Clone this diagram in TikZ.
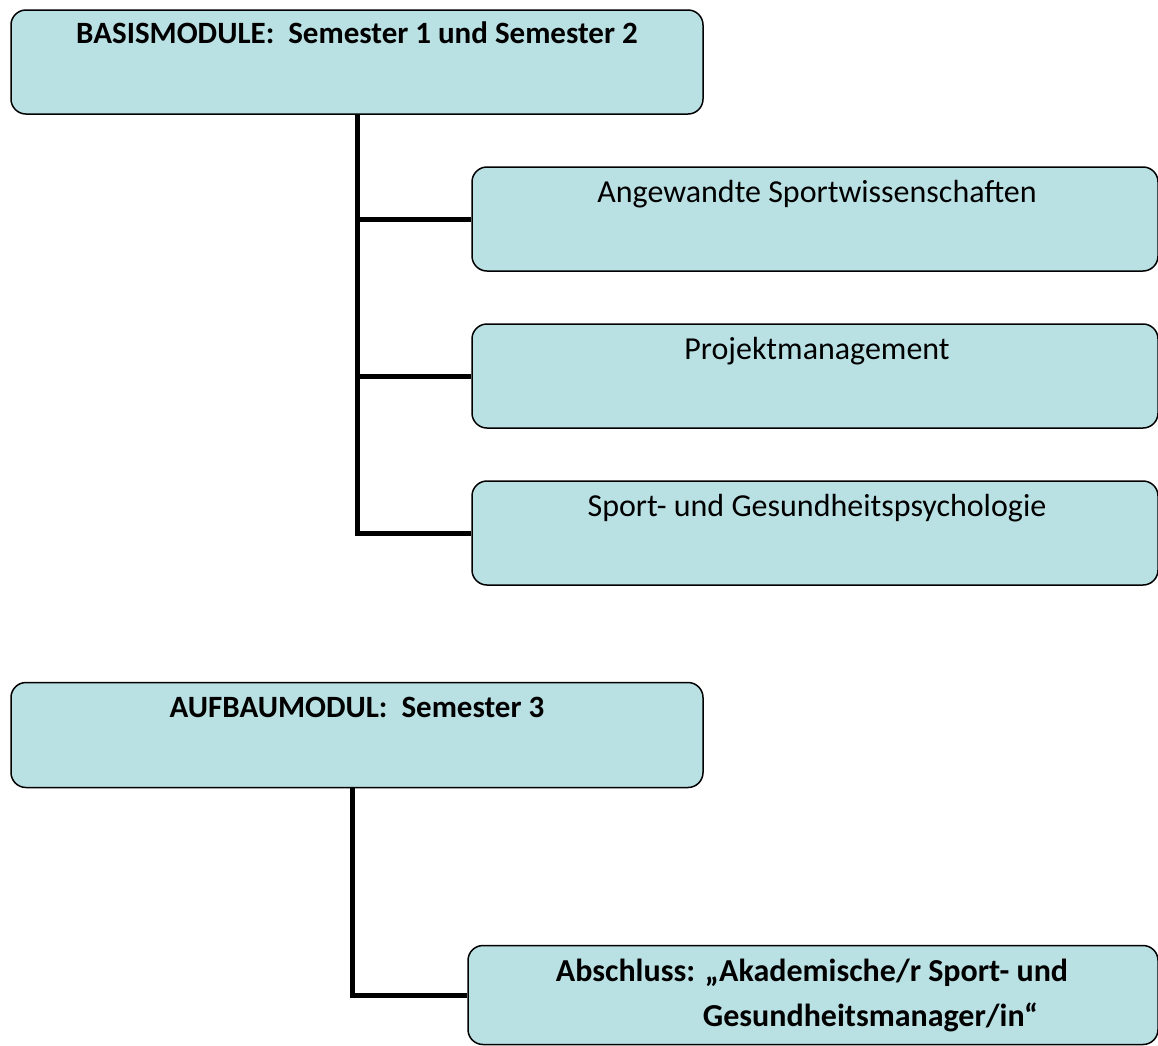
\documentclass[tikz,border=0pt]{standalone}
\usepackage{fontspec}
\setmainfont{Carlito}
\usetikzlibrary{positioning}
\definecolor{boxblue}{RGB}{185,224,227}
\tikzset{
  modbox/.style={draw=black,fill=boxblue,line width=1.5pt,rounded corners=15pt,inner sep=0pt},
  modtext/.style={font=\fontsize{32}{36}\selectfont,inner sep=0pt,anchor=base},
  headtext/.style={modtext,font=\fontsize{31}{36}\selectfont\bfseries},
  link/.style={line width=5pt}
}
\begin{document}
\begin{tikzpicture}[x=1pt,y=-1pt]
  \useasboundingbox (0,0) rectangle (1158,1045);
  \clip (0,0) rectangle (1158,1045);
  % basis modules
  \node[modbox,minimum width=692pt,minimum height=104pt] (basis) at (357,62) {};
  \node[headtext] (basistext) at ([yshift=-34pt]basis.north) {BASISMODULE:\ \ Semester 1 und Semester 2};
  \node[modbox,minimum width=686pt,minimum height=104pt] (sport) at (815,219) {};
  \node[modtext] (sporttext) at ([xshift=2pt,yshift=-36pt]sport.north) {Angewandte Sportwissenschaften};
  \node[modbox,minimum width=686pt,minimum height=104pt] (projekt) at (815,376) {};
  \node[modtext] (projekttext) at ([xshift=2pt,yshift=-36pt]projekt.north) {Projektmanagement};
  \node[modbox,minimum width=686pt,minimum height=104pt] (psych) at (815,533) {};
  \node[modtext] (psychtext) at ([xshift=2pt,yshift=-36pt]psych.north) {Sport- und Gesundheitspsychologie};
  \coordinate (basisend) at (basis.south |- psych.west);
  \draw[link] (basis.south) -- (basisend) -- (psych.west);
  \draw[link] (basis.south |- sport.west) -- (sport.west);
  \draw[link] (basis.south |- projekt.west) -- (projekt.west);
  % aufbau module
  \node[modbox,minimum width=692pt,minimum height=105pt] (aufbau) at (357,735) {};
  \node[headtext] (aufbautext) at ([yshift=-36pt]aufbau.north) {AUFBAUMODUL:\ \ Semester 3};
  \node[modbox,minimum width=690pt,minimum height=99pt] (abschluss) at (813,995) {};
  \node[modtext,font=\fontsize{32}{36}\selectfont\bfseries] (abschlusstext) at ([xshift=-1pt,yshift=-37pt]abschluss.north) {Abschluss: „Akademische/r Sport- und};
  \node[modtext,font=\fontsize{32}{36}\selectfont\bfseries,anchor=base west] (abschlusstext2) at ([xshift=147pt,yshift=-45pt]abschlusstext.base west) {Gesundheitsmanager/in“};
  \coordinate (aufbauend) at ([xshift=-5pt]aufbau.south |- abschluss.west);
  \draw[link] ([xshift=-5pt]aufbau.south) -- (aufbauend) -- (abschluss.west);
\end{tikzpicture}
\end{document}
